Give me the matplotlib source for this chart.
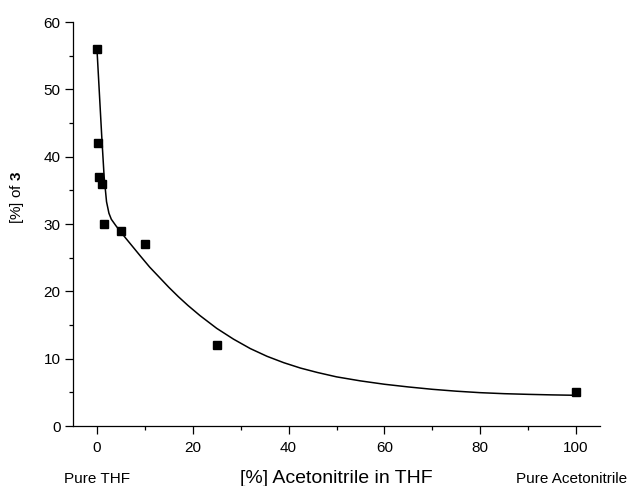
import numpy as np
import matplotlib
matplotlib.use("Agg")
import matplotlib.pyplot as plt
from matplotlib.ticker import MultipleLocator

plt.rcParams['font.family'] = ['Liberation Sans', 'DejaVu Sans']
plt.rcParams['mathtext.fontset'] = 'custom'
plt.rcParams['mathtext.bf'] = 'Liberation Sans:bold'
plt.rcParams['mathtext.rm'] = 'Liberation Sans'

# measured points: % acetonitrile in THF vs % of 3
acn_pct = [0, 0.2, 0.5, 1.0, 1.5, 5, 10, 25, 100]
yield_pct = [56, 42, 37, 36, 30, 29, 27, 12, 5]

# fitted curve
fit_x = [0, 0.5, 1.0, 1.5, 2.0, 2.5, 3.0, 4.0, 5.0, 6.0, 7.5, 9.0, 11.0, 13.0, 15.0,
         17.0, 19.0, 21.5, 25.0, 28.5, 32.0, 35.5, 39.0, 42.5, 46.0, 50.0, 55.0,
         60.0, 65.0, 70.0, 75.0, 80.0, 85.0, 90.0, 95.0, 100]
fit_y = [56.0, 49.5, 43.0, 37.0, 33.3, 31.6, 30.7, 29.7, 28.8, 27.9, 26.6, 25.3, 23.6,
         22.1, 20.6, 19.2, 17.9, 16.4, 14.5, 12.9, 11.5, 10.35, 9.4, 8.6, 7.95, 7.3,
         6.7, 6.2, 5.8, 5.45, 5.17, 4.95, 4.8, 4.7, 4.62, 4.56]

fig = plt.figure(figsize=(6.28, 4.86), dpi=100)
ax = fig.add_axes([73 / 628, 60 / 486, 527 / 628, 404 / 486])

ax.plot(fit_x, fit_y, color='black', linewidth=1.1)
ax.plot(acn_pct, yield_pct, linestyle='none', marker='s', markersize=5.8,
        color='black', clip_on=False)

ax.set_xlim(-5, 105)
ax.set_ylim(0, 60)
ax.xaxis.set_major_locator(MultipleLocator(20))
ax.xaxis.set_minor_locator(MultipleLocator(10))
ax.yaxis.set_major_locator(MultipleLocator(10))
ax.yaxis.set_minor_locator(MultipleLocator(5))

for side in ('top', 'right'):
    ax.spines[side].set_visible(False)
for side in ('left', 'bottom'):
    ax.spines[side].set_linewidth(0.9)

ax.tick_params(which='major', direction='out', length=6, width=0.9, labelsize=11)
ax.tick_params(which='minor', direction='out', length=3, width=0.9)
ax.tick_params(axis='x', which='major', pad=5)
ax.tick_params(axis='y', which='major', pad=3)

fig.text(0.5 * (73 + 600) / 628, 3 / 486, '[%] Acetonitrile in THF',
         ha='center', va='baseline', fontsize=14)
fig.text(97 / 628, 3 / 486, 'Pure THF', ha='center', va='baseline', fontsize=11)
fig.text(627 / 628, 3 / 486, 'Pure Acetonitrile', ha='right', va='baseline', fontsize=11)
fig.text(17 / 628, 1 - 197 / 486, r'[%] of $\mathbf{3}$', rotation=90,
         ha='center', va='center', fontsize=11)

fig.savefig('out.png', dpi=100)
